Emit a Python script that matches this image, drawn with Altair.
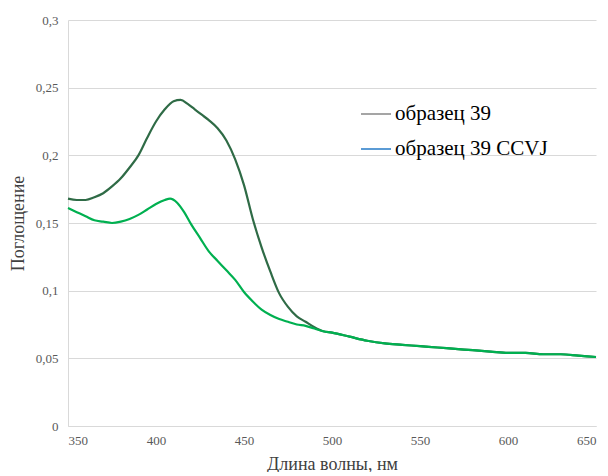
import altair as alt
import pandas as pd

wl_a = [350, 355, 360, 365, 370, 375, 380, 385, 390, 395, 400, 405, 410, 414, 418, 422, 426, 430, 435, 440,
        445, 450, 455, 460, 465, 470, 475, 480, 485, 490, 495, 500, 510, 520, 530, 540, 550, 560, 570, 580,
        590, 600, 610, 620, 630, 640, 650]
abs_a = [0.168, 0.167, 0.167, 0.169, 0.172, 0.177, 0.183, 0.191, 0.200, 0.213, 0.225, 0.234, 0.240, 0.241,
         0.238, 0.234, 0.230, 0.226, 0.220, 0.211, 0.197, 0.178, 0.153, 0.132, 0.114, 0.098, 0.088, 0.081,
         0.077, 0.073, 0.070, 0.069, 0.066, 0.063, 0.061, 0.060, 0.059, 0.058, 0.057, 0.056, 0.055, 0.054,
         0.054, 0.053, 0.053, 0.052, 0.051]

wl_b = [350, 355, 360, 365, 370, 375, 380, 385, 390, 395, 400, 405, 408, 412, 416, 420, 425, 430, 435, 440,
        445, 450, 455, 460, 465, 470, 475, 480, 485, 490, 495, 500, 510, 520, 530, 540, 550, 560, 570, 580,
        590, 600, 610, 620, 630, 640, 650]
abs_b = [0.161, 0.158, 0.155, 0.152, 0.151, 0.150, 0.151, 0.153, 0.156, 0.160, 0.164, 0.167, 0.168, 0.165,
         0.158, 0.149, 0.139, 0.129, 0.122, 0.115, 0.108, 0.099, 0.092, 0.086, 0.082, 0.079, 0.077, 0.075,
         0.074, 0.072, 0.070, 0.069, 0.066, 0.063, 0.061, 0.060, 0.059, 0.058, 0.057, 0.056, 0.055, 0.054,
         0.054, 0.053, 0.053, 0.052, 0.051]

series = ["образец 39", "образец 39 CCVJ"]
legend_colors = ["#a5a5a5", "#5b9bd5"]
line_colors = ["#2f6b46", "#00b050"]

df = pd.concat([
    pd.DataFrame({"wl": wl_a, "abs": abs_a, "series": series[0]}),
    pd.DataFrame({"wl": wl_b, "abs": abs_b, "series": series[1]}),
])

FONT = "Liberation Serif"

x = alt.X("wl:Q", scale=alt.Scale(domain=[350, 650], nice=False),
          axis=alt.Axis(values=[350, 400, 450, 500, 550, 600, 650], title="Длина волны, нм",
                        grid=False, ticks=False, labelPadding=8, titlePadding=8))
y = alt.Y("abs:Q", scale=alt.Scale(domain=[0, 0.3], nice=False),
          axis=alt.Axis(values=[0, 0.05, 0.1, 0.15, 0.2, 0.25, 0.3], title="Поглощение",
                        grid=True, ticks=False, labelPadding=10, titlePadding=8,
                        labelExpr="replace(format(datum.value, '~g'), '.', ',')"))

legend_layer = alt.Chart(df).mark_line(opacity=0, strokeWidth=2).encode(
    x=x, y=y,
    color=alt.Color("series:N", scale=alt.Scale(domain=series, range=legend_colors),
                    legend=alt.Legend(title=None, orient="none", legendX=292, legendY=78,
                                      symbolType="stroke", symbolStrokeWidth=2, symbolSize=900,
                                      symbolOpacity=1, labelFont=FONT, labelFontSize=21,
                                      labelColor="#000000", rowPadding=9, labelOffset=3,
                                      labelLimit=300)),
)

lines = alt.Chart(df).mark_line(strokeWidth=2.2, interpolate="monotone").encode(
    x=x, y=y,
    color=alt.Color("series:N", scale=alt.Scale(domain=series, range=line_colors), legend=None),
)

chart = alt.layer(legend_layer, lines).resolve_scale(color="independent").properties(
    width=528, height=406,
    autosize=alt.AutoSizeParams(type="none"),
    padding={"left": 60, "top": 12, "right": 4, "bottom": 46},
).configure_view(stroke=None).configure_axis(
    labelFont=FONT, labelFontSize=13, labelColor="#595959",
    titleFont=FONT, titleFontSize=18, titleColor="#404040", titleFontWeight="normal",
    domainColor="#d9d9d9", gridColor="#d9d9d9", domainWidth=1,
)

chart.save("out.html", embed_options={"renderer": "svg", "actions": False})
